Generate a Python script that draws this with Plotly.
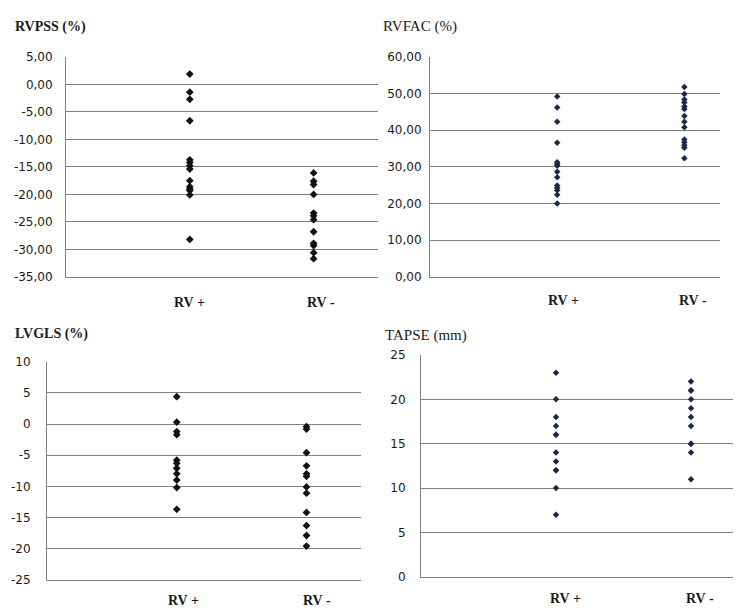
import plotly.graph_objects as go

# ---------------- data ----------------
groups = ["RV +", "RV -"]
group_x = [1, 2]

rvpss_pos = [1.9, -1.4, -2.7, -6.6, -13.7, -14.2, -14.8, -15.4, -17.5, -18.6, -19.0, -19.3, -20.1, -28.2]
rvpss_neg = [-16.1, -17.6, -18.2, -20.0, -23.4, -23.9, -24.6, -26.8, -28.9, -29.3, -30.6, -31.7]

rvfac_pos = [49.2, 46.2, 42.3, 36.6, 31.3, 30.8, 30.3, 28.7, 27.2, 24.9, 24.3, 23.6, 22.4, 20.0]
rvfac_neg = [51.8, 49.9, 48.4, 47.6, 46.5, 45.8, 43.9, 42.3, 40.8, 37.5, 36.7, 35.9, 35.2, 32.4]

lvgls_pos = [4.4, 0.3, -1.2, -1.7, -5.8, -6.3, -7.1, -8.0, -9.0, -10.2, -13.7]
lvgls_neg = [-0.4, -0.8, -4.6, -6.7, -8.0, -8.4, -10.1, -11.1, -14.2, -16.3, -17.9, -19.6]

tapse_pos = [23, 20, 18, 17, 16, 16, 14, 13, 12, 12, 10, 7]
tapse_neg = [22, 21, 21, 20, 19, 18, 17, 15, 15, 14, 11]

rvpss_ticks = [5, 0, -5, -10, -15, -20, -25, -30, -35]
rvpss_labels = ["5,00", "0,00", "-5,00", "-10,00", "-15,00", "-20,00", "-25,00", "-30,00", "-35,00"]
rvfac_ticks = [60, 50, 40, 30, 20, 10, 0]
rvfac_labels = ["60,00", "50,00", "40,00", "30,00", "20,00", "10,00", "0,00"]
lvgls_ticks = [10, 5, 0, -5, -10, -15, -20, -25]
lvgls_labels = ["10", "5", "0", "-5", "-10", "-15", "-20", "-25"]
tapse_ticks = [25, 20, 15, 10, 5, 0]
tapse_labels = ["25", "20", "15", "10", "5", "0"]

titles = ["RVPSS (%)", "RVFAC (%)", "LVGLS (%)", "TAPSE (mm)"]

# ---------------- figure ----------------
W, H = 741, 608
fig = go.Figure()

panels = [
    # (pos, neg, ticks, labels, colour, msize, xdom px, ydom px, xmax, standoff, yrange)
    (rvpss_pos, rvpss_neg, rvpss_ticks, rvpss_labels, "#111111", 6, (58, 370), (43, 268), 2.52, 10, (-35, 5)),
    (rvfac_pos, rvfac_neg, rvfac_ticks, rvfac_labels, "#1c2848", 5, (422, 712), (43, 268), 2.28, 5, (0, 60)),
    (lvgls_pos, lvgls_neg, lvgls_ticks, lvgls_labels, "#111111", 6, (39, 353), (355, 578), 2.42, 13, (-25, 10)),
    (tapse_pos, tapse_neg, tapse_ticks, tapse_labels, "#1c2848", 5, (413, 737), (348, 575), 2.40, 12, (0, 25)),
]

grid_col = "#808080"
for i, (pos, neg, ticks, labels, col, ms, xd, yd, xmax, so, yr) in enumerate(panels):
    n = "" if i == 0 else str(i + 1)
    xa, ya = "x" + n, "y" + n
    for xv, vals in zip(group_x, [pos, neg]):
        fig.add_trace(go.Scatter(
            x=[xv] * len(vals), y=vals, mode="markers", xaxis=xa, yaxis=ya,
            marker=dict(symbol="diamond", size=ms, color=col, line=dict(width=0)),
            showlegend=False, hoverinfo="y"))
    fig.layout["xaxis" + n] = dict(
        domain=[xd[0] / W, xd[1] / W], range=[0, xmax], anchor=ya,
        showgrid=False, zeroline=False, showticklabels=False, ticks="",
        showline=True, linecolor=grid_col, linewidth=1, fixedrange=True)
    fig.layout["yaxis" + n] = dict(
        domain=[1 - yd[1] / H, 1 - yd[0] / H], range=list(yr), anchor=xa,
        tickmode="array", tickvals=ticks, ticktext=labels,
        showgrid=True, gridcolor=grid_col, gridwidth=1, zeroline=False,
        showline=True, linecolor=grid_col, linewidth=1, ticks="",
        ticklabelstandoff=so,
        tickfont=dict(family="DejaVu Sans", size=12, color="#1a1a1a"),
        fixedrange=True)

annotations = []
title_pos = [(5, 12, True), (373, 12, False), (5, 327, True), (375, 328, False)]
for t, (px, py, bold) in zip(titles, title_pos):
    annotations.append(dict(
        text=("<b>%s</b>" % t) if bold else t, xref="paper", yref="paper",
        x=px / W, y=1 - py / H, xanchor="left", yanchor="middle", showarrow=False,
        font=dict(family="Liberation Serif", size=14 if bold else 15, color="#1a1a1a")))

label_pos = [
    ("", (1.0, 2.06), 294),
    ("2", (1.05, 2.07), 292),
    ("3", (1.05, 2.08), 599),
    ("4", (1.07, 2.07), 597),
]
for n, xs, py in label_pos:
    for g, xv in zip(groups, xs):
        annotations.append(dict(
            text="<b>%s</b>" % g, xref="x" + n, yref="paper", x=xv, y=1 - py / H,
            xanchor="center", yanchor="middle", showarrow=False,
            font=dict(family="Liberation Serif", size=14, color="#1a1a1a")))

fig.update_layout(
    width=W, height=H, margin=dict(l=0, r=0, t=0, b=0),
    paper_bgcolor="white", plot_bgcolor="white",
    showlegend=False, annotations=annotations)

fig.write_html("out.html")
